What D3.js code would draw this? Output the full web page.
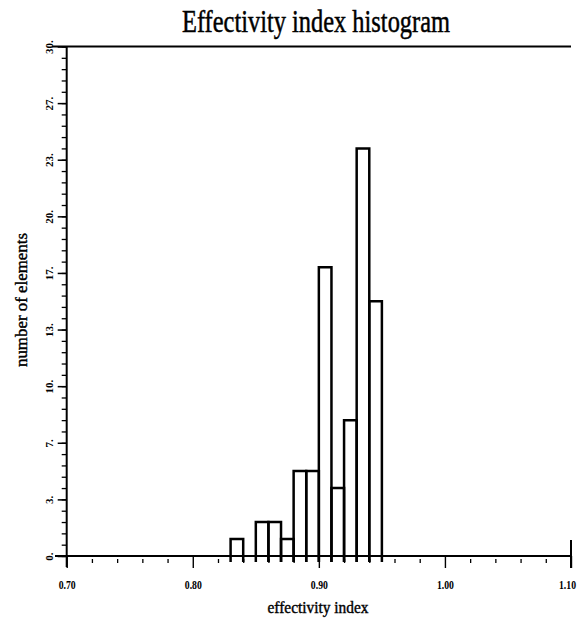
<!DOCTYPE html>
<html>
<head>
<meta charset="utf-8">
<script src="https://cdn.jsdelivr.net/npm/d3@7"></script>
<style>
  body { margin: 0; background: #fff; }
  text { font-family: "Liberation Serif", "DejaVu Serif", serif; fill: #000; }
</style>
</head>
<body>
<div id="chart"></div>
<script>
// histogram bins (left edge) and counts
const binStarts = [0.83, 0.84, 0.85, 0.86, 0.87, 0.88, 0.89, 0.90, 0.91, 0.92, 0.93, 0.94];
const counts = [1, 0, 2, 2, 1, 5, 5, 17, 4, 8, 24, 15];
const binWidth = 0.01;

// axis labels as printed on the original
const xTickValues = [0.70, 0.80, 0.90, 1.00, 1.10];
const xTickLabels = ["0.70", "0.80", "0.90", "1.00", "1.10"];
const yTickValues = [0, 10/3, 20/3, 10, 40/3, 50/3, 20, 70/3, 80/3, 30];
const yTickLabels = ["0.", "3.", "7.", "10.", "13.", "17.", "20.", "23.", "27.", "30."];

const width = 580, height = 619;

const svg = d3.select('#chart').append('svg')
    .attr('width', width)
    .attr('height', height);

const x = d3.scaleLinear().domain([0.70, 1.10]).range([66.7, 571]);
const y = d3.scaleLinear().domain([0, 30]).range([556, 46.5]);

// minor tick values
const xMinor = d3.range(0, 21).map(i => 0.70 + i * 0.02).filter(v => Math.abs(v * 10 - Math.round(v * 10)) > 1e-6);
const yMinor = d3.range(0, 46).map(i => i * 2 / 3);

// title
svg.append('text')
    .attr('x', 316).attr('y', 32)
    .attr('text-anchor', 'middle')
    .attr('font-size', 32)
    .attr('stroke', '#000').attr('stroke-width', 0.5)
    .attr('textLength', 268)
    .attr('lengthAdjust', 'spacingAndGlyphs')
    .text('Effectivity index histogram');

// top line at y = 30
svg.append('line')
    .attr('x1', 52).attr('x2', x(1.10))
    .attr('y1', y(30)).attr('y2', y(30))
    .attr('stroke', '#000').attr('stroke-width', 2);

// y minor ticks
svg.append('g')
    .attr('transform', `translate(${x(0.70)},0)`)
    .call(d3.axisLeft(y).tickValues(yMinor).tickSize(5).tickFormat(''))
    .call(g => g.select('.domain').remove())
    .selectAll('line').attr('stroke-width', 1.3);

// y major ticks + labels
const yAxis = svg.append('g')
    .attr('transform', `translate(${x(0.70)},0)`)
    .call(d3.axisLeft(y).tickValues(yTickValues).tickSize(9).tickFormat((d, i) => yTickLabels[i]));
yAxis.select('.domain').remove();
yAxis.selectAll('line').attr('stroke-width', 1.5);
yAxis.selectAll('text')
    .attr('font-family', '"Liberation Serif", serif')
    .attr('font-size', 11)
    .attr('font-weight', 'bold')
    .attr('x', null).attr('dy', null)
    .attr('text-anchor', 'middle')
    .attr('transform', 'translate(-17,0) rotate(-90) translate(0,3.5)');

// y axis line (runs a bit below the baseline)
svg.append('line')
    .attr('x1', x(0.70)).attr('x2', x(0.70))
    .attr('y1', y(30)).attr('y2', y(0) + 11)
    .attr('stroke', '#000').attr('stroke-width', 2);

// x minor ticks, slightly detached below the axis
svg.append('g')
    .attr('transform', `translate(0,${y(0) + 3})`)
    .call(d3.axisBottom(x).tickValues(xMinor).tickSize(4).tickFormat(''))
    .call(g => g.select('.domain').remove())
    .selectAll('line').attr('stroke-width', 1.3);

// x major ticks + labels
const xAxis = svg.append('g')
    .attr('transform', `translate(0,${y(0)})`)
    .call(d3.axisBottom(x).tickValues(xTickValues).tickSize(12).tickPadding(12).tickFormat((d, i) => xTickLabels[i]));
xAxis.select('.domain').remove();
xAxis.selectAll('line').attr('stroke-width', 1.4);
xAxis.selectAll('text')
    .attr('font-family', '"Liberation Serif", serif')
    .attr('font-size', 12)
    .attr('font-weight', 'bold')
    .attr('textLength', 17)
    .attr('lengthAdjust', 'spacingAndGlyphs')
    .attr('x', (d, i) => i === xTickValues.length - 1 ? -4 : 0);

// x axis line
svg.append('line')
    .attr('x1', 55).attr('x2', x(1.10))
    .attr('y1', y(0)).attr('y2', y(0))
    .attr('stroke', '#000').attr('stroke-width', 2.2);

// end tick at 1.10
svg.append('line')
    .attr('x1', x(1.10)).attr('x2', x(1.10))
    .attr('y1', y(0) - 16).attr('y2', y(0) + 12)
    .attr('stroke', '#000').attr('stroke-width', 2);

// histogram bars: open outlines, sides run a little below the baseline
svg.append('g')
    .selectAll('path')
    .data(binStarts.map((b, i) => ({ x0: b, x1: b + binWidth, n: counts[i] })).filter(d => d.n > 0))
    .join('path')
    .attr('d', d => `M${x(d.x0)},${y(0) + 6}V${y(d.n)}H${x(d.x1)}V${y(0) + 6}`)
    .attr('fill', 'none')
    .attr('stroke', '#000')
    .attr('stroke-width', 2.5);

// axis titles
svg.append('text')
    .attr('x', 318).attr('y', 613)
    .attr('text-anchor', 'middle')
    .attr('font-size', 16)
    .attr('stroke', '#000').attr('stroke-width', 0.4)
    .attr('textLength', 101)
    .attr('lengthAdjust', 'spacingAndGlyphs')
    .text('effectivity index');

svg.append('text')
    .attr('transform', 'translate(27,300) rotate(-90)')
    .attr('text-anchor', 'middle')
    .attr('font-size', 16)
    .attr('stroke', '#000').attr('stroke-width', 0.4)
    .attr('textLength', 134)
    .attr('lengthAdjust', 'spacingAndGlyphs')
    .text('number of elements');
</script>
</body>
</html>
